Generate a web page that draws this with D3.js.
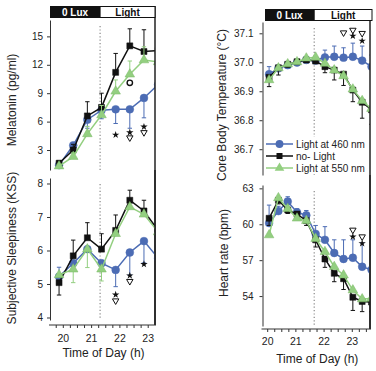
<!DOCTYPE html>
<html>
<head>
<meta charset="utf-8">
<script src="https://cdn.jsdelivr.net/npm/d3@7"></script>
<style>
    body { margin: 0; background: #fff; }
    svg { display: block; font-family: "Liberation Sans", Arial, sans-serif; }
</style>
</head>
<body>
<div id="chart"></div>
<script>
const WIDTH = 376, HEIGHT = 371;
const BLUE = "#4c6cb4", BLACK = "#111111", GREEN = "#93cf80";

// sampling times (h)
const timesLeft = [19.85, 20.35, 20.85, 21.35, 21.85, 22.35, 22.85, 23.35];
const timesRight = [20.05, 20.38, 20.71, 21.04, 21.37, 21.70, 22.03, 22.36, 22.69, 23.02, 23.35, 23.68];

// melatonin (pg/ml)
const melBlue = [1.4, 3.5, 6.2, 7.2, 7.3, 7.3, 8.5, 9.9];
const melBlueLo = [0.2, 0.4, 0.9, 0.9, 1.5, 2.0, 2.1, 2.0];
const melBlack = [1.6, 3.0, 6.6, 7.5, 11.2, 14.0, 13.4, 13.5];
const melBlackHi = [0.3, 0.6, 1.5, 1.5, 2.0, 1.8, 2.3, 2.0];
const melGreen = [1.3, 2.3, 4.7, 6.7, 9.2, 11.0, 12.5, 12.3];
const melGreenHi = [0.2, 0.4, 0.8, 1.0, 1.2, 1.4, 1.4, 1.4];

// subjective sleepiness (KSS)
const kssBlue = [5.22, 5.62, 6.04, 5.62, 5.42, 5.94, 6.28, 5.77];
const kssBlueHi = [0.28, 0, 0, 0, 0, 0, 0, 0];
const kssBlueLo = [0, 0, 0, 0, 0.5, 0.67, 0.65, 0.5];
const kssBlack = [5.04, 5.84, 6.38, 6.04, 6.6, 7.5, 7.18, 6.6];
const kssBlackHi = [0, 0.47, 0.45, 0.46, 0.46, 0.3, 0.32, 0.4];
const kssBlackLo = [0.37, 0, 0, 0, 0, 0, 0, 0];
const kssGreen = [5.27, 5.44, 6.04, 5.44, 6.5, 7.3, 7.08, 6.55];
const kssGreenLo = [0, 0.4, 0.55, 0.35, 0, 0, 0, 0];

// core body temperature (°C)
const tempBlue = [36.959, 36.979, 36.990, 36.999, 37.008, 37.006, 37.017, 37.019, 37.016, 37.019, 37.006, 36.985];
const tempBlueHi = [0.026, 0.008, 0.006, 0.005, 0.006, 0.008, 0.025, 0.037, 0.034, 0.047, 0.050, 0.040];
const tempBlack = [36.948, 36.981, 36.993, 37.002, 37.008, 37.004, 36.985, 36.973, 36.959, 36.904, 36.862, 36.836];
const tempBlackLo = [0.032, 0.025, 0.010, 0.005, 0.005, 0.008, 0.021, 0.034, 0.039, 0.040, 0.055, 0.050];
const tempGreen = [36.939, 36.980, 36.994, 37.001, 37.014, 37.017, 36.996, 36.973, 36.953, 36.907, 36.867, 36.840];

// heart rate (bpm)
const hrBlue = [60.1, 61.1, 61.9, 61.0, 60.75, 59.2, 58.7, 57.6, 57.1, 57.2, 56.45, 56.2];
const hrBlueHi = [1.5, 0.4, 0.4, 0.3, 0.4, 0.7, 1.1, 1.1, 1.6, 1.5, 2.0, 1.8];
const hrBlack = [60.5, 62.0, 61.2, 60.85, 60.3, 58.7, 57.1, 55.9, 55.45, 53.9, 53.55, 53.5];
const hrBlackLo = [0.6, 0.3, 0.3, 0.3, 0.4, 0.6, 0.7, 0.7, 0.9, 1.1, 0.85, 0.8];
const hrGreen = [59.1, 62.2, 61.3, 60.5, 60.3, 58.8, 57.7, 56.45, 55.75, 54.5, 53.75, 53.8];

// significance marks: [time, value, mark]
const melMarks = [[21.85, 4.6, "*"], [22.35, 4.85, "*"], [22.35, 4.3, "v"], [22.85, 5.45, "*"], [22.85, 4.85, "v"], [22.35, 10.1, "o"]];
const kssMarks = [[21.85, 4.68, "*"], [21.85, 4.5, "v"], [22.35, 5.25, "*"], [22.35, 5.08, "v"], [22.85, 5.59, "*"]];
const tempMarks = [[22.69, 37.102, "v"], [23.02, 37.111, "v"], [23.02, 37.091, "*"], [23.35, 37.100, "v"], [23.35, 37.074, "*"]];
const hrMarks = [[23.02, 59.52, "v"], [23.02, 58.96, "*"], [23.35, 58.96, "v"], [23.35, 58.4, "*"]];

const legendNames = ["Light at 460 nm", "no- Light", "Light at 550 nm"];

let svg = d3.select("#chart")
    .append("svg")
    .attr("width", WIDTH)
    .attr("height", HEIGHT);

let zeros = n => new Array(n).fill(0);

let symbolFor = color => color === BLUE ? d3.symbolCircle
    : color === BLACK ? d3.symbolSquare : d3.symbolTriangle;
let sizeFor = color => color === BLUE ? 48 : color === BLACK ? 36 : 40;

let drawPanel = (p, idx) => {
    let x = d3.scaleLinear().domain(p.xDomain).range([p.left, p.right]);
    let y = d3.scaleLinear().domain(p.yDomain).range([p.bottom, p.top]);
    let g = svg.append("g");

    // y axis
    let yAxis = g.append("g")
        .attr("transform", `translate(${p.left},0)`)
        .call(d3.axisLeft(y).tickValues(p.yTicks).tickSize(3).tickSizeOuter(0)
            .tickPadding(p.yPad).tickFormat(p.yFmt));
    yAxis.selectAll("text").style("font-size", "10px").attr("fill", "#222");
    yAxis.selectAll("line,path").attr("stroke", "#333");

    // dotted lights-on line
    g.append("line")
        .attr("x1", x(p.lightsOn)).attr("x2", x(p.lightsOn))
        .attr("y1", p.top + 6).attr("y2", p.bottom)
        .attr("stroke", "#888").attr("stroke-width", 1.2)
        .attr("stroke-dasharray", "1.2,2.2");

    let clipId = "clip" + idx;
    svg.append("clipPath").attr("id", clipId)
        .append("rect")
        .attr("x", p.left).attr("y", p.top - 20)
        .attr("width", p.right - p.left).attr("height", p.bottom - p.top + 40);

    let plot = g.append("g").attr("clip-path", `url(#${clipId})`);

    p.series.forEach(s => {
        let n = s.values.length;
        let hi = s.hi || zeros(n), lo = s.lo || zeros(n);
        let pts = s.values.map((v, i) => ({ t: p.times[i], v: v, hi: hi[i], lo: lo[i] }));

        // error bars
        let eb = plot.append("g").attr("stroke", s.color).attr("stroke-width", 1);
        pts.filter(d => d.hi > 0 || d.lo > 0).forEach(d => {
            let y1 = y(d.v + d.hi), y2 = y(d.v - d.lo);
            eb.append("line").attr("x1", x(d.t)).attr("x2", x(d.t)).attr("y1", y1).attr("y2", y2);
            let cap = d.hi > 0 ? y1 : y2;
            eb.append("line").attr("x1", x(d.t) - 2.2).attr("x2", x(d.t) + 2.2)
                .attr("y1", cap).attr("y2", cap);
        });

        plot.append("path")
            .datum(pts)
            .attr("fill", "none")
            .attr("stroke", s.color)
            .attr("stroke-width", 1.5)
            .attr("d", d3.line().x(d => x(d.t)).y(d => y(d.v)));

        plot.selectAll(null)
            .data(pts)
            .enter()
            .append("path")
            .attr("transform", d => `translate(${x(d.t)},${y(d.v)})`)
            .attr("d", d3.symbol().type(symbolFor(s.color)).size(sizeFor(s.color)))
            .attr("fill", s.color)
            .attr("stroke", s.color === GREEN ? "#7ab866" : s.color)
            .attr("stroke-width", 0.5);
    });

    // significance marks
    p.marks.forEach(m => {
        let tx = x(m[0]), ty = y(m[1]);
        if (m[2] === "*") {
            g.append("path").attr("transform", `translate(${tx},${ty})`)
                .attr("d", d3.symbol().type(d3.symbolStar).size(17)).attr("fill", "#111");
        } else if (m[2] === "v") {
            g.append("path").attr("transform", `translate(${tx},${ty})rotate(180)`)
                .attr("d", d3.symbol().type(d3.symbolTriangle).size(18))
                .attr("fill", "#fff").attr("stroke", "#111").attr("stroke-width", 1);
        } else {
            g.append("circle").attr("cx", tx).attr("cy", ty).attr("r", 2.7)
                .attr("fill", "#fff").attr("stroke", "#111").attr("stroke-width", 1.4);
        }
    });

    // right frame line
    g.append("line")
        .attr("x1", p.right).attr("x2", p.right)
        .attr("y1", p.frameTop).attr("y2", p.frameBottom)
        .attr("stroke", "#222").attr("stroke-width", 1.5);

    // y title
    g.append("text")
        .attr("transform", `translate(${p.titleX}, ${p.titleY})rotate(-90)`)
        .style("text-anchor", "middle")
        .style("font-size", "12px")
        .attr("fill", "#222")
        .text(p.title);

    // x axis for bottom panels
    if (p.xAxisY) {
        let xa = g.append("g").attr("transform", `translate(0, ${p.xAxisY})`);
        xa.append("line").attr("x1", p.left - 1).attr("x2", p.right + 1)
            .attr("stroke", "#333");
        xa.selectAll(null)
            .data(d3.range(Math.ceil(p.xDomain[0] * 4), Math.floor(p.xDomain[1] * 4) + 1).map(k => k / 4))
            .enter().append("line")
            .attr("x1", d => x(d)).attr("x2", d => x(d))
            .attr("y1", 0).attr("y2", 3)
            .attr("stroke", "#333");
        xa.selectAll(null)
            .data([20, 21, 22, 23])
            .enter().append("text")
            .attr("x", d => x(d))
            .attr("y", p.xLabelY)
            .style("text-anchor", "middle")
            .style("font-size", "10.5px")
            .attr("fill", "#222")
            .text(d => d);
        g.append("text")
            .attr("x", (p.left + p.right) / 2 + 1)
            .attr("y", p.xTitleY)
            .style("text-anchor", "middle")
            .style("font-size", "12px")
            .attr("fill", "#222")
            .text("Time of Day (h)");
    }

    // light condition header
    if (p.header) {
        let h = p.header;
        g.append("rect").attr("x", h.x0).attr("y", h.y).attr("width", x(p.lightsOn) - h.x0)
            .attr("height", h.h).attr("fill", "#111");
        g.append("rect").attr("x", x(p.lightsOn)).attr("y", h.y + 0.5)
            .attr("width", h.x1 - x(p.lightsOn)).attr("height", h.h - 1)
            .attr("fill", "#fff").attr("stroke", "#111").attr("stroke-width", 1);
        g.append("text").attr("x", (h.x0 + x(p.lightsOn)) / 2).attr("y", h.y + h.h - 2.5)
            .style("text-anchor", "middle").style("font-size", "10px").style("font-weight", "bold")
            .attr("fill", "#fff").text("0 Lux");
        g.append("text").attr("x", (x(p.lightsOn) + h.x1) / 2).attr("y", h.y + h.h - 2.5)
            .style("text-anchor", "middle").style("font-size", "10px").style("font-weight", "bold")
            .attr("fill", "#111").text("Light");
    }

    return { x, y, g };
};

let leftX = [19.53, 23.24], rightX = [19.816, 23.628];

let panels = [
    {
        times: timesLeft, xDomain: leftX, left: 50, right: 155, top: 20, bottom: 170,
        yDomain: [0.89, 16.73], yTicks: [3, 6, 9, 12, 15], yFmt: d3.format("d"), yPad: 4,
        lightsOn: 21.3, frameTop: 6, frameBottom: 325,
        title: "Melatonin (pg/ml)", titleX: 16, titleY: 100,
        header: { x0: 50, x1: 155, y: 6, h: 12 },
        series: [
            { values: melBlue, lo: melBlueLo, color: BLUE },
            { values: melBlack, hi: melBlackHi, color: BLACK },
            { values: melGreen, hi: melGreenHi, color: GREEN }
        ],
        marks: melMarks
    },
    {
        times: timesLeft, xDomain: leftX, left: 50, right: 155, top: 178, bottom: 320,
        yDomain: [3.925, 8.164], yTicks: [4, 5, 6, 7, 8], yFmt: d3.format("d"), yPad: 4,
        lightsOn: 21.3, frameTop: 170, frameBottom: 325,
        title: "Subjective Sleepiness (KSS)", titleX: 16, titleY: 248,
        xAxisY: 325, xLabelY: 17, xTitleY: 357,
        series: [
            { values: kssBlue, hi: kssBlueHi, lo: kssBlueLo, color: BLUE },
            { values: kssBlack, hi: kssBlackHi, lo: kssBlackLo, color: BLACK },
            { values: kssGreen, lo: kssGreenLo, color: GREEN }
        ],
        marks: kssMarks
    },
    {
        times: timesRight, xDomain: rightX, left: 262.5, right: 370, top: 22, bottom: 175,
        yDomain: [36.611, 37.139], yTicks: [36.7, 36.8, 36.9, 37.0, 37.1], yFmt: d3.format(".1f"), yPad: 6,
        lightsOn: 21.65, frameTop: 9, frameBottom: 329,
        title: "Core Body Temperature (°C)", titleX: 226, titleY: 105,
        header: { x0: 265, x1: 372, y: 9, h: 12 },
        series: [
            { values: tempBlue, hi: tempBlueHi, color: BLUE },
            { values: tempBlack, lo: tempBlackLo, color: BLACK },
            { values: tempGreen, color: GREEN }
        ],
        marks: tempMarks
    },
    {
        times: timesRight, xDomain: rightX, left: 262.5, right: 370, top: 185, bottom: 326,
        yDomain: [51.5, 63.28], yTicks: [54, 57, 60, 63], yFmt: d3.format("d"), yPad: 6,
        lightsOn: 21.65, frameTop: 175, frameBottom: 329,
        title: "Heart rate (bpm)", titleX: 228, titleY: 253,
        xAxisY: 329, xLabelY: 16, xTitleY: 363,
        series: [
            { values: hrBlue, hi: hrBlueHi, color: BLUE },
            { values: hrBlack, lo: hrBlackLo, color: BLACK },
            { values: hrGreen, color: GREEN }
        ],
        marks: hrMarks
    }
];

panels.forEach((p, i) => drawPanel(p, i));

// legend in the temperature panel
let legend = svg.append("g");
legend.append("rect").attr("x", 264).attr("y", 137).attr("width", 104).attr("height", 37).attr("fill", "#fff");
[BLUE, BLACK, GREEN].forEach((c, i) => {
    let ly = 144 + i * 12;
    legend.append("line").attr("x1", 266).attr("x2", 293).attr("y1", ly).attr("y2", ly)
        .attr("stroke", c).attr("stroke-width", 1.5);
    legend.append("path").attr("transform", `translate(279.5,${ly})`)
        .attr("d", d3.symbol().type(symbolFor(c)).size(sizeFor(c)))
        .attr("fill", c);
    legend.append("text").attr("x", 296).attr("y", ly + 3.5)
        .style("font-size", "10px").attr("fill", "#222")
        .text(legendNames[i]);
});
</script>
</body>
</html>
